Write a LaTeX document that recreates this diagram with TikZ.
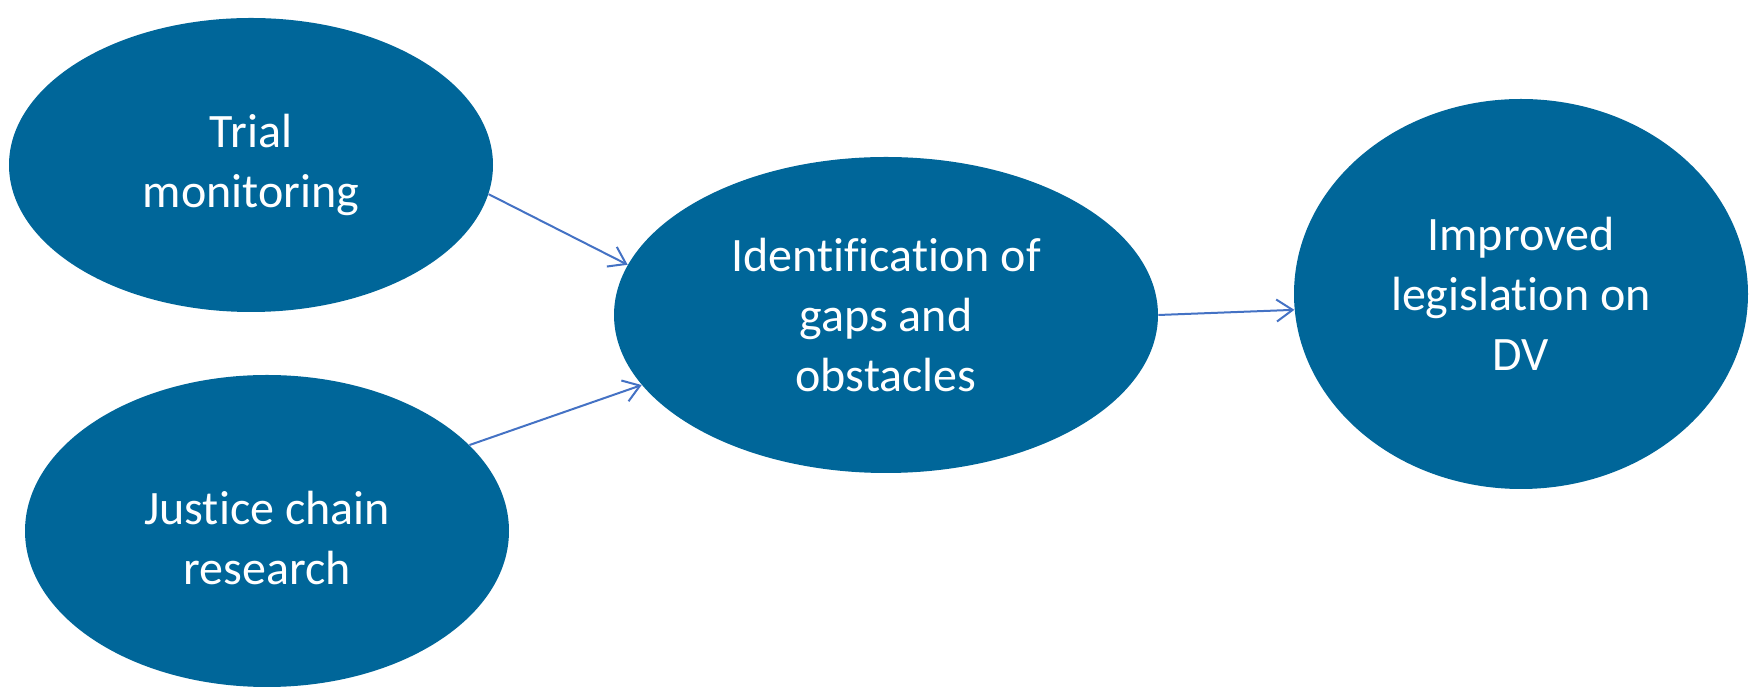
\documentclass[tikz,border=0pt]{standalone}
\usepackage{fontspec}
\setmainfont{Carlito}[Ligatures={NoCommon,NoContextual}]
\usetikzlibrary{shapes.geometric,arrows.meta}
\definecolor{ellfill}{HTML}{006699}
\definecolor{arrowblue}{HTML}{4472C4}
\tikzset{
  bubfont/.style={text=white, align=center, font=\fontsize{24}{30}\selectfont},
  bubble/.style={ellipse, fill=ellfill, draw=none, inner sep=0pt, bubfont},
  link/.style={draw=arrowblue, line width=1pt, -{Straight Barb[length=8pt,width=11pt,line width=1pt]}}
}
\begin{document}
\begin{tikzpicture}[x=0.5pt,y=-0.5pt]
\useasboundingbox (0,0) rectangle (1758,688);
\node[bubble, minimum width=242pt, minimum height=147pt] (tm) at (251,165) {Trial\\monitoring};
\node[bubble, minimum width=242pt, minimum height=156pt,
  label={[bubfont, yshift=-3.5pt]center:Justice chain\\research}] (js) at (267,531) {};
\node[bubble, minimum width=272pt, minimum height=158pt] (id) at (886,315) {Identification of\\gaps and\\obstacles};
\node[bubble, minimum width=227pt, minimum height=195pt] (im) at (1521,294) {Improved\\legislation on\\DV};
\draw[link] (tm.-7) -- (id.169);
\draw[link] (js.23) -- (id.196);
\draw[link] (id.0) -- (im.184);
\end{tikzpicture}
\end{document}
